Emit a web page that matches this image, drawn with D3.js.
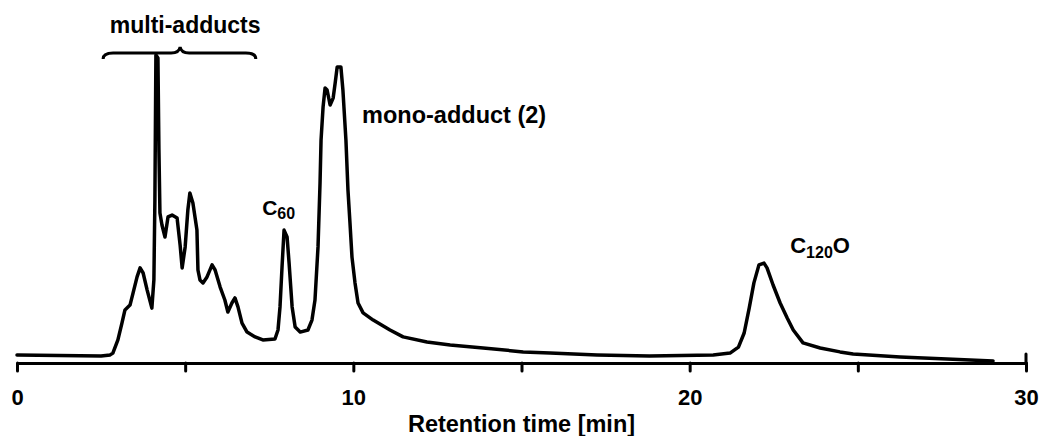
<!DOCTYPE html>
<html>
<head>
<meta charset="utf-8">
<script src="https://cdn.jsdelivr.net/npm/d3@7"></script>
<style>
body { margin: 0; background: #fff; }
svg text { font-family: "Liberation Sans", Arial, sans-serif; font-weight: bold; fill: #000; }
</style>
</head>
<body>
<div class="canvas"></div>
<script>
// chromatogram trace (time in min, signal in arbitrary units)
var times = [0, 2.5, 2.77, 2.85, 3.0, 3.12, 3.21, 3.36, 3.45, 3.57, 3.66, 3.75, 3.87, 4.01, 4.07, 4.10, 4.13,
	4.19, 4.22, 4.25, 4.31, 4.40, 4.49, 4.61, 4.76, 4.85, 4.91, 5.0, 5.08, 5.14, 5.23, 5.35, 5.38, 5.44, 5.53,
	5.65, 5.80, 5.89, 6.04, 6.18, 6.27, 6.39, 6.48, 6.57, 6.69, 6.84, 7.08, 7.31, 7.67, 7.76, 7.82, 7.88, 7.94,
	8.03, 8.09, 8.18, 8.27, 8.42, 8.65, 8.77, 8.86, 8.95, 9.01, 9.04, 9.10, 9.16, 9.22, 9.31, 9.40, 9.46, 9.52,
	9.63, 9.69, 9.78, 9.84, 9.90, 9.96, 10.05, 10.14, 10.29, 10.59, 11.09, 11.48, 12.19, 12.88, 13.86, 15.05,
	15.85, 17.25, 18.8, 20.7, 21.2, 21.45, 21.62, 21.77, 21.91, 22.06, 22.21, 22.3, 22.48, 22.69, 22.9, 23.08,
	23.37, 23.88, 24.47, 24.86, 26.26, 27.65, 29.02];
var signal = [2.7, 2.3, 2.7, 3.3, 7.7, 13.3, 17.7, 19.3, 23.3, 28.7, 31.7, 30, 24.3, 18.3, 27.7, 54.3, 102.7,
	101.7, 71, 50, 46, 42, 48.7, 49.3, 48.3, 39.3, 31.7, 38.7, 51, 56.7, 53.3, 44.3, 31, 27.7, 26.7,
	28.7, 32.7, 31, 25.3, 21, 17, 20, 21.7, 18.7, 13.3, 10.3, 8.7, 7.7, 8, 11, 18.7, 32, 44.3,
	42, 33.3, 18.7, 12, 10.3, 11, 14.3, 21, 38.7, 60, 74.3, 85.3, 91.7, 91, 86, 88.3, 93.3, 98.7,
	98.7, 91, 74.3, 57.7, 46.7, 35.3, 26.7, 20, 16.7, 14.3, 11, 8.7, 7, 6, 5, 3.7,
	3.3, 2.7, 2.3, 2.7, 3.3, 5.3, 10, 18.3, 26.7, 32.7, 33.3, 31.7, 26, 20, 15, 11,
	6.7, 5, 3.7, 3, 2, 1.3, 0.7];

var x_ticks = [0, 5, 10, 15, 20, 25, 30];
var x_labels = ["0", "", "10", "", "20", "", "30"];
var x_title = "Retention time [min]";

var W = 1041, H = 436;
var svg = d3.select("div.canvas").append("svg").attr("width", W).attr("height", H);

var x = d3.scaleLinear().domain([0, 30]).range([17, 1026]);
var y = d3.scaleLinear().domain([0, 100]).range([363, 63]);

// axis
var axis = d3.axisBottom(x).tickValues(x_ticks).tickSize(8).tickSizeOuter(0)
	.tickFormat(function(d, i) { return x_labels[i]; });
var ax = svg.append("g").attr("transform", "translate(0," + y(0) + ")").call(axis);
ax.select(".domain").attr("stroke", "#000").attr("stroke-width", 3);
ax.selectAll(".tick line").attr("stroke", "#000").attr("stroke-width", 3).attr("stroke-linecap", "round");
ax.selectAll(".tick text").attr("y", 42).attr("dy", null)
	.style("font-size", "22px").style("font-family", "'Liberation Sans', Arial, sans-serif")
	.style("font-weight", "bold").attr("fill", "#000");
// end cap at 30 reaches above the axis too
ax.append("line").attr("x1", x(30)).attr("x2", x(30)).attr("y1", -9).attr("y2", 0)
	.attr("stroke", "#000").attr("stroke-width", 3).attr("stroke-linecap", "round");

svg.append("text").attr("x", x(15)).attr("y", 432).attr("text-anchor", "middle")
	.style("font-size", "23.5px").text(x_title);

// trace
var pts = times.map(function(t, i) { return [t, signal[i]]; });
var line = d3.line().x(function(d) { return x(d[0]); }).y(function(d) { return y(d[1]); });
svg.append("path").datum(pts).attr("d", line)
	.attr("fill", "none").attr("stroke", "#000").attr("stroke-width", 3.5)
	.attr("stroke-linejoin", "round").attr("stroke-linecap", "round");

// brace over the multi-adducts
var b0 = x(2.56), b1 = x(7.1), bm = x(4.85), by = 53;
var bp = d3.path();
bp.moveTo(b0, by + 6);
bp.quadraticCurveTo(b0, by, b0 + 10, by);
bp.lineTo(bm - 9, by);
bp.quadraticCurveTo(bm - 1, by, bm, by - 6);
bp.quadraticCurveTo(bm + 1, by, bm + 9, by);
bp.lineTo(b1 - 10, by);
bp.quadraticCurveTo(b1, by, b1, by + 6);
svg.append("path").attr("d", bp.toString()).attr("fill", "none")
	.attr("stroke", "#000").attr("stroke-width", 3);

svg.append("text").attr("x", x(5)).attr("y", 33).attr("text-anchor", "middle")
	.style("font-size", "23px").text("multi-adducts");

svg.append("text").attr("x", x(10.26)).attr("y", 123)
	.style("font-size", "23.5px").text("mono-adduct (2)");

var c60 = svg.append("text").attr("x", x(7.29)).attr("y", 215).style("font-size", "21px");
c60.append("tspan").text("C");
c60.append("tspan").attr("dy", 4).style("font-size", "16px").text("60");

var c120 = svg.append("text").attr("x", x(22.99)).attr("y", 253).style("font-size", "22px");
c120.append("tspan").text("C");
c120.append("tspan").attr("dy", 5).style("font-size", "16px").text("120");
c120.append("tspan").attr("dy", -5).text("O");
</script>
</body>
</html>
